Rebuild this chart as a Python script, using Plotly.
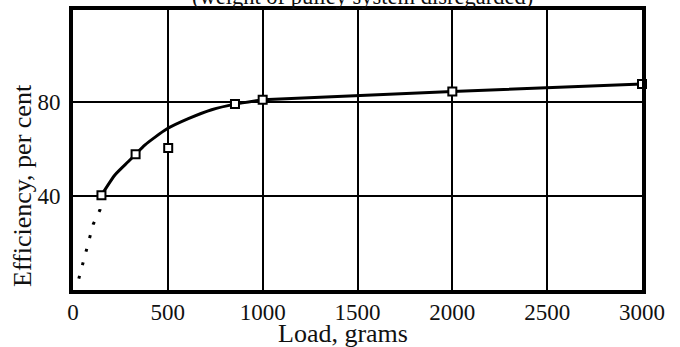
import plotly.graph_objects as go

# Measured points (load in grams, efficiency in per cent)
load_pts = [150, 330, 502, 854, 1000, 2000, 3000]
eff_pts = [40.3, 57.7, 60.3, 79.0, 80.9, 84.4, 87.5]

# Smooth fitted curve (solid)
curve_load = [150, 221, 292, 330, 380, 494, 608, 731, 854, 1000]
curve_eff = [40.3, 48.9, 54.6, 57.7, 61.7, 68.4, 72.8, 76.6, 79.0, 80.9]
# Straight continuation
line_load = [1000, 2000, 3000]
line_eff = [80.9, 84.4, 87.5]
# Dotted extrapolation toward origin
dot_load = [150, 142, 107, 86, 63, 42, 28]
dot_eff = [40.3, 34, 28, 21.3, 14.2, 8.5, 4]

x_ticks = [0, 500, 1000, 1500, 2000, 2500, 3000]
y_ticks = [40, 80]

FONT = "Liberation Serif"
INK = "#111111"

L, R, T, B = 73, 38, 10, 57
W, H = 680, 347
PW, PH = W - L - R, H - T - B


def px_to_paper_x(px):
    return (px - L) / PW


def px_to_paper_y(py):
    return (H - B - py) / PH


fig = go.Figure()
fig.add_trace(go.Scatter(x=dot_load, y=dot_eff, mode="lines",
                         line=dict(color="black", width=3, dash="3px,11px"),
                         hoverinfo="skip", cliponaxis=False))
fig.add_trace(go.Scatter(x=curve_load, y=curve_eff, mode="lines",
                         line=dict(color="black", width=3, shape="spline", smoothing=0.6)))
fig.add_trace(go.Scatter(x=line_load, y=line_eff, mode="lines",
                         line=dict(color="black", width=3)))
fig.add_trace(go.Scatter(x=load_pts, y=eff_pts, mode="markers",
                         marker=dict(symbol="square", size=8, color="white",
                                     line=dict(color="black", width=2)),
                         cliponaxis=False))

tickfont = dict(family=FONT, size=23, color=INK)
fig.update_layout(
    width=W, height=H,
    margin=dict(l=L, r=R, t=T, b=B),
    paper_bgcolor="white", plot_bgcolor="white",
    showlegend=False,
    font=dict(family=FONT, color=INK, size=23),
    xaxis=dict(range=[0, 3000], tickvals=x_ticks, ticktext=[str(v) for v in x_ticks],
               showgrid=True, gridcolor="black", gridwidth=2,
               showline=True, linecolor="black", linewidth=4, mirror=True,
               ticks="", zeroline=False, ticklabelstandoff=-2, tickfont=tickfont,
               automargin=False),
    yaxis=dict(range=[0, 119], tickvals=y_ticks, ticktext=[str(v) for v in y_ticks],
               showgrid=True, gridcolor="black", gridwidth=1.5,
               showline=True, linecolor="black", linewidth=4, mirror=True,
               ticks="", zeroline=False, ticklabelstandoff=4, tickfont=tickfont,
               automargin=False),
    annotations=[
        dict(text="(weight of pulley system disregarded)", xref="paper", yref="paper",
             x=px_to_paper_x(362), y=px_to_paper_y(-3), xanchor="center", yanchor="middle",
             showarrow=False, font=dict(size=22.5, family=FONT, color=INK)),
        dict(text="Load, grams", xref="paper", yref="paper",
             x=px_to_paper_x(343), y=px_to_paper_y(334), xanchor="center", yanchor="middle",
             showarrow=False, font=dict(size=26, family=FONT, color=INK)),
        dict(text="Efficiency, per cent", xref="paper", yref="paper", textangle=-90,
             x=px_to_paper_x(22), y=px_to_paper_y(186), xanchor="center", yanchor="middle",
             showarrow=False, font=dict(size=26, family=FONT, color=INK)),
    ],
)

fig.write_html("out.html", config={"displayModeBar": False},
               post_script="document.body.style.margin='0';")
